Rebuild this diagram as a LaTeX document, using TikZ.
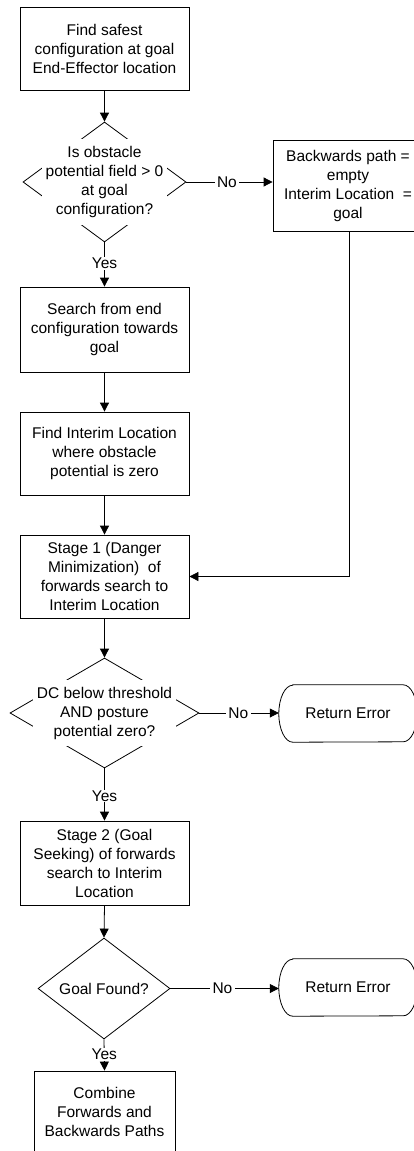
\documentclass[tikz,border=0pt]{standalone}
\usepackage{fontspec}
\setmainfont{Liberation Sans}
\usetikzlibrary{shapes.geometric,arrows.meta}
\begin{document}
\begin{tikzpicture}[x=1pt,y=-1pt,
  every node/.style={font=\fontsize{15.5}{19}\selectfont},
  proc/.style={draw, line width=0.8pt, rectangle, align=center, inner sep=0pt},
  dec/.style={draw, line width=0.8pt, diamond, inner sep=0pt},
  dtext/.style={fill=white, align=center, inner xsep=3.5pt, inner ysep=7pt},
  term/.style={rectangle, inner sep=0pt, minimum width=138pt, minimum height=57pt},
  lbl/.style={fill=white, inner xsep=2.5pt, inner ysep=1pt},
  flow/.style={line width=0.8pt, -{Triangle[length=9pt,width=9pt]}},
  edge/.style={line width=0.8pt}
]
\useasboundingbox (0,0) rectangle (413,1151);

% process boxes
\node[proc, minimum width=169pt, minimum height=83pt] (b1) at (104.5,48.5)
  {Find safest\\configuration at goal\\End-Effector location};
\node[proc, minimum width=150pt, minimum height=91pt] (bb) at (348,185.5)
  {Backwards path =\\empty\\Interim Location\ \ =\\goal};
\node[proc, minimum width=169pt, minimum height=85pt] (b2) at (104.5,329.5)
  {Search from end\\configuration towards\\goal};
\node[proc, minimum width=169pt, minimum height=83pt] (b3) at (104.5,453.5)
  {Find Interim Location\\where obstacle\\potential is zero};
\node[proc, minimum width=169pt, minimum height=83pt] (b4) at (104.5,576.5)
  {Stage 1 (Danger\\Minimization)\ \ of\\forwards search to\\Interim Location};
\node[proc, minimum width=169pt, minimum height=84pt] (b5) at (104.5,863)
  {Stage 2 (Goal\\Seeking) of forwards\\search to Interim\\Location};
\node[proc, minimum width=141pt, minimum height=82pt] (b6) at (104.5,1112)
  {Combine\\Forwards and\\Backwards Paths};

% decisions
\node[dec, minimum width=163pt, minimum height=120pt] (d1) at (104.5,182) {};
\node[dtext] (d1t) at (104.5,182)
  {Is obstacle\\potential field > 0\\at goal\\configuration?};
\node[dec, minimum width=189pt, minimum height=110pt] (d2) at (104.5,713) {};
\node[dtext] (d2t) at (104.5,713)
  {DC below threshold\\AND posture\\potential zero?};
\node[dec, minimum width=132pt, minimum height=87pt] (d3) at (104,988.5) {Goal Found?};

% terminals
\node[term] (t1) at (348,713.5) {Return Error};
\node[term] (t2) at (348,987.5) {Return Error};
\foreach \n in {t1,t2}
  \draw[edge] ([xshift=14pt]\n.north west) -- ([xshift=-14pt]\n.north east)
    arc[start angle=90,end angle=-90,x radius=14pt,y radius=28.5pt]
    -- ([xshift=14pt]\n.south west)
    arc[start angle=270,end angle=90,x radius=14pt,y radius=28.5pt] -- cycle;

% connectors
\draw[flow] (b1.south) -- (d1.north);
\draw[flow] (d1.east) -- node[lbl,pos=0.47]{No} (d1.east -| bb.west);
\draw[flow] (d1.south) -- node[lbl,pos=0.47]{Yes} (b2.north);
\draw[flow] (b2.south) -- (b3.north);
\draw[flow] (b3.south) -- (b4.north);
\draw[flow] ([xshift=1pt]bb.south) |- (b4.east);
\draw[flow] (b4.south) -- (d2.north);
\draw[flow] (d2.east) -- node[lbl,pos=0.49]{No} (d2.east -| t1.west);
\draw[flow] (d2.south) -- node[lbl,pos=0.53]{Yes} (b5.north);
\draw[flow] (b5.south) -- (d3.north);
\draw[flow] (d3.east) -- node[lbl,pos=0.48]{No} (d3.east -| t2.west);
\draw[flow] (d3.south) -- node[lbl,pos=0.49]{Yes} (b6.north);
\end{tikzpicture}
\end{document}
